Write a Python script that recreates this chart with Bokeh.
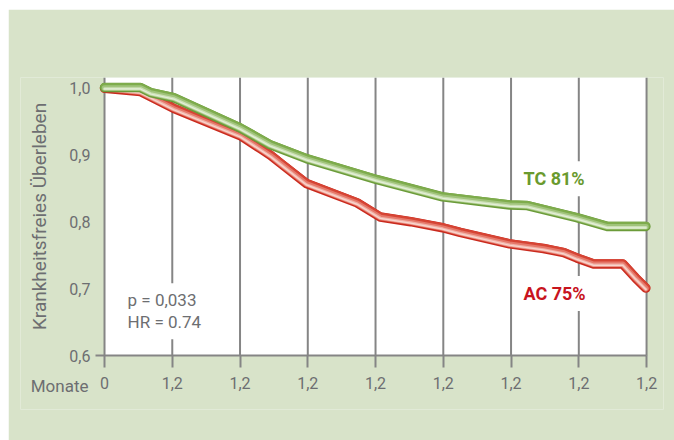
from bokeh.plotting import figure
from bokeh.models import Range1d, FixedTicker, Label, Spacer
from bokeh.layouts import column, row
from bokeh.embed import file_html
from bokeh.resources import INLINE

# ---- data ----
x_ticks = [0, 1, 2, 3, 4, 5, 6, 7, 8]
x_tick_labels = ["0", "1,2", "1,2", "1,2", "1,2", "1,2", "1,2", "1,2", "1,2"]
y_ticks = [0.6, 0.7, 0.8, 0.9, 1.0]
y_tick_labels = ["0,6", "0,7", "0,8", "0,9", "1,0"]

tc_x = [0, 0.53, 0.68, 1.02, 2.0, 2.44, 2.98, 4.01, 4.99, 5.98, 6.24, 6.97, 7.42, 7.99]
tc_y = [1.0, 1.0, 0.9925, 0.985, 0.940, 0.915, 0.894, 0.863, 0.837, 0.825, 0.824, 0.806, 0.793, 0.793]

ac_x = [0, 0.53, 1.02, 2.01, 2.30, 2.45, 2.60, 2.98, 3.73, 4.07, 4.52, 4.99, 5.25, 5.98,
        6.48, 6.78, 6.97, 7.22, 7.65, 7.84, 7.99]
ac_y = [0.999, 0.994, 0.969, 0.928, 0.909, 0.899, 0.887, 0.857, 0.828, 0.807, 0.800, 0.791,
        0.784, 0.767, 0.760, 0.754, 0.746, 0.737, 0.737, 0.716, 0.701]

tc_label = "TC 81%"
ac_label = "AC 75%"
stats_label = "p = 0,033\nHR = 0.74"
x_title = "Monate"
y_title = "Krankheitsfreies Überleben"

# ---- style ----
FONT = "Roboto"
BG = "#d8e3c9"
GRID = "#858585"
TXT = "#6d6e71"

Y_TOP = 1.015     # top of the white area
X_LEFT = -0.133   # where the bottom axis line starts

p = figure(width=666, height=431, output_backend="svg", toolbar_location=None,
           x_range=Range1d(-1.24, 8.25), y_range=Range1d(0.52, Y_TOP),
           min_border_left=12, min_border_right=11, min_border_top=68, min_border_bottom=31)
p.border_fill_color = BG
p.background_fill_color = BG
p.outline_line_color = None
p.grid.visible = False

# white plotting area
p.quad(left=[x_ticks[0]], right=[x_ticks[-1]], bottom=[y_ticks[0]], top=[Y_TOP],
       fill_color="white", line_color=None, level="image")
# vertical grid lines, only over the white area
p.segment(x0=x_ticks, y0=[y_ticks[0]] * len(x_ticks), x1=x_ticks, y1=[Y_TOP] * len(x_ticks),
          line_color=GRID, line_width=2, level="underlay")

xa = p.xaxis[0]
xa.fixed_location = y_ticks[0]
xa.bounds = (X_LEFT, x_ticks[-1])
xa.ticker = FixedTicker(ticks=x_ticks)
xa.major_label_overrides = {t: l for t, l in zip(x_ticks, x_tick_labels)}
xa.major_tick_out = 12
xa.major_tick_in = 0
xa.major_tick_line_color = GRID
xa.major_tick_line_width = 2
xa.minor_tick_line_color = None
xa.axis_line_color = GRID
xa.axis_line_width = 2
xa.major_label_standoff = 9
xa.major_label_text_font = FONT
xa.major_label_text_font_size = "16px"
xa.major_label_text_color = TXT

ya = p.yaxis[0]
ya.fixed_location = X_LEFT
ya.bounds = (y_ticks[0], Y_TOP)
ya.ticker = FixedTicker(ticks=y_ticks)
ya.major_label_overrides = {t: l for t, l in zip(y_ticks, y_tick_labels)}
ya.axis_line_color = None
ya.major_tick_line_color = None
ya.major_tick_out = 0
ya.major_tick_in = 0
ya.minor_tick_line_color = None
ya.major_label_standoff = 5
ya.major_label_text_font = FONT
ya.major_label_text_font_size = "16px"
ya.major_label_text_color = TXT
ya.axis_label = y_title
ya.axis_label_text_font = FONT
ya.axis_label_text_font_size = "19px"
ya.axis_label_text_font_style = "normal"
ya.axis_label_text_color = TXT
ya.axis_label_standoff = 15

PX = 1.0 / 670.0  # one pixel in y data units (for the tube shading offsets)


def tube(xs, ys, cols):
    specs = [(9.5, 0.0), (8.0, 0.6), (5.5, -0.4), (3.0, -1.1), (1.2, -1.4)]
    for (w, off), c in zip(specs, cols):
        p.line(xs, [v + off * PX for v in ys], line_width=w, line_color=c,
               line_cap="round", line_join="round")


tube(ac_x, ac_y, ["#c92a1e", "#d64434", "#e5786a", "#f1b0a5", "#f8d6cf"])
tube(tc_x, tc_y, ["#6b9b3a", "#7eac4c", "#a0c37b", "#cadfb3", "#e4efd8"])

p.add_layout(Label(x=6.08, y=0.864, text=tc_label, text_font=FONT, text_font_style="bold",
                   text_font_size="18px", text_color="#6a9a2e", text_baseline="middle",
                   background_fill_color="white", padding=7))
p.add_layout(Label(x=6.08, y=0.693, text=ac_label, text_font=FONT, text_font_style="bold",
                   text_font_size="18px", text_color="#c8141e", text_baseline="middle",
                   background_fill_color="white", padding=7))
p.add_layout(Label(x=0.237, y=0.6664, text=stats_label, text_font=FONT,
                   text_font_size="17px", text_color=TXT, text_baseline="middle",
                   background_fill_color="white", padding=7, text_line_height=1.1))
p.add_layout(Label(x=-0.236, y=0.5552, text=x_title, text_font=FONT,
                   text_font_size="17px", text_color=TXT, text_baseline="middle",
                   text_align="right"))

layout = column(Spacer(height=9), row(Spacer(width=8), p))
open("out.html", "w").write(file_html(layout, INLINE))
